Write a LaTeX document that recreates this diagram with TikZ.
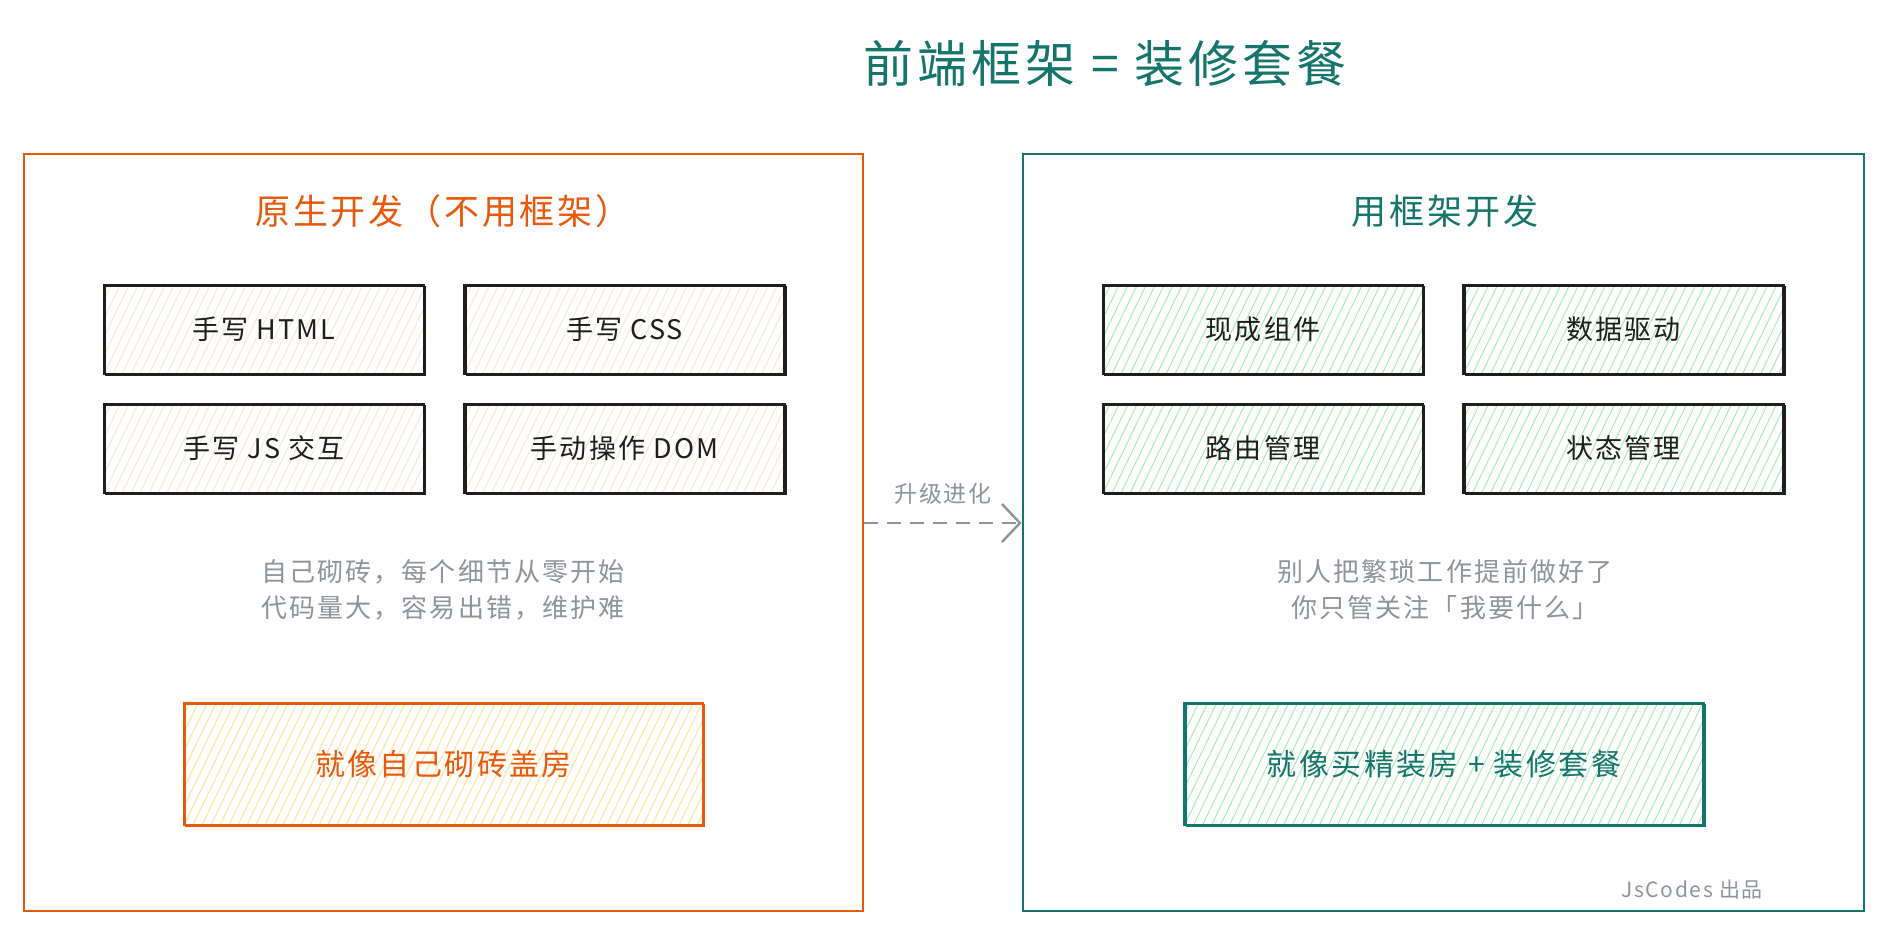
\documentclass[tikz,border=0pt]{standalone}
\usepackage{fontspec}
\newfontfamily\cjk{Noto Sans CJK SC}[LetterSpace=8]
\usetikzlibrary{arrows.meta,calc}
\definecolor{orng}{HTML}{E8590C}
\definecolor{teal2}{HTML}{14756A}
\definecolor{txtgray}{HTML}{8E949A}
\definecolor{ink}{HTML}{1E1E1E}
\definecolor{beigeh}{HTML}{F4EBD6}
\definecolor{greenh}{HTML}{A8EBB3}
\definecolor{yellowh}{HTML}{FFE39A}
\tikzset{
  x=1pt,y=-1pt,
  hatch/.style={path picture={
    \foreach \i in {-20,...,70}{
      \draw[#1,line width=1pt] ([xshift=\i*9pt]path picture bounding box.south west) -- ++(80pt,165pt);}}},
  sketch/.style={draw=#1,line width=2.4pt,
    postaction={draw=#1,line width=0.9pt,transform canvas={xshift=1.8pt,yshift=-1.5pt}}},
  smallbox/.style={sketch=ink,hatch=#1,minimum width=320pt,minimum height=89pt,inner sep=0pt,
    font=\cjk\fontsize{27}{32}\selectfont,text=ink},
  bigbox/.style={draw=#1,line width=2.8pt,inner sep=0pt},
  bottombox/.style={sketch=#1,minimum width=519pt,minimum height=122pt,inner sep=0pt,
    font=\cjk\fontsize{30}{36}\selectfont,text=#1},
  heading/.style={font=\cjk\fontsize{35}{40}\selectfont,text=#1},
  desc/.style={font=\cjk\fontsize{26}{36}\selectfont,text=txtgray,align=center},
}
\begin{document}
\begin{tikzpicture}
\useasboundingbox[fill=white] (0,0) rectangle (1888,938);
% title
\node[font=\cjk\fontsize{50}{56}\selectfont,text=teal2] (title) at (1105,63) {前端框架 = 装修套餐};
% big boxes
\node[bigbox=orng,minimum width=839pt,minimum height=757pt] (L) at (443.5,532.5) {};
\node[bigbox=teal2,minimum width=841pt,minimum height=757pt] (R) at (1443.5,532.5) {};
% headings
\node[heading=orng] (lh) at (443,211) {原生开发（不用框架）};
\node[heading=teal2] (rh) at (1445,211) {用框架开发};
% left small boxes
\node[smallbox=beigeh] (a1) at (264,329.5) {手写 HTML};
\node[smallbox=beigeh] (a2) at (624.5,329.5) {手写 CSS};
\node[smallbox=beigeh] (a3) at (264,448.5) {手写 JS 交互};
\node[smallbox=beigeh] (a4) at (624.5,448.5) {手动操作 DOM};
% right small boxes
\node[smallbox=greenh] (b1) at (1263,329.5) {现成组件};
\node[smallbox=greenh] (b2) at (1623.5,329.5) {数据驱动};
\node[smallbox=greenh] (b3) at (1263,448.5) {路由管理};
\node[smallbox=greenh] (b4) at (1623.5,448.5) {状态管理};
% descriptions
\node[desc] (ld) at (443,590) {自己砌砖，每个细节从零开始\\代码量大，容易出错，维护难};
\node[desc] (rd) at (1445,590) {别人把繁琐工作提前做好了\\你只管关注「我要什么」};
% bottom boxes
\node[bottombox=orng,hatch=yellowh] (lb) at (443.5,764) {就像自己砌砖盖房};
\node[bottombox=teal2,hatch=greenh] (rb) at (1444,764) {就像买精装房 + 装修套餐};
% arrow
\draw[txtgray,line width=2.4pt,dash pattern=on 14pt off 9pt,-{Straight Barb[length=18pt,width=38pt,line width=2.4pt]}]
  ([yshift=9.5pt]L.east) -- ([yshift=9.5pt]R.west);
\node[font=\cjk\fontsize{23}{28}\selectfont,text=txtgray] (al) at (943,494) {升级进化};
% credit
\node[font=\cjk\fontsize{21}{26}\selectfont,text=txtgray] (cr) at (1692,890) {JsCodes 出品};
\end{tikzpicture}
\end{document}
